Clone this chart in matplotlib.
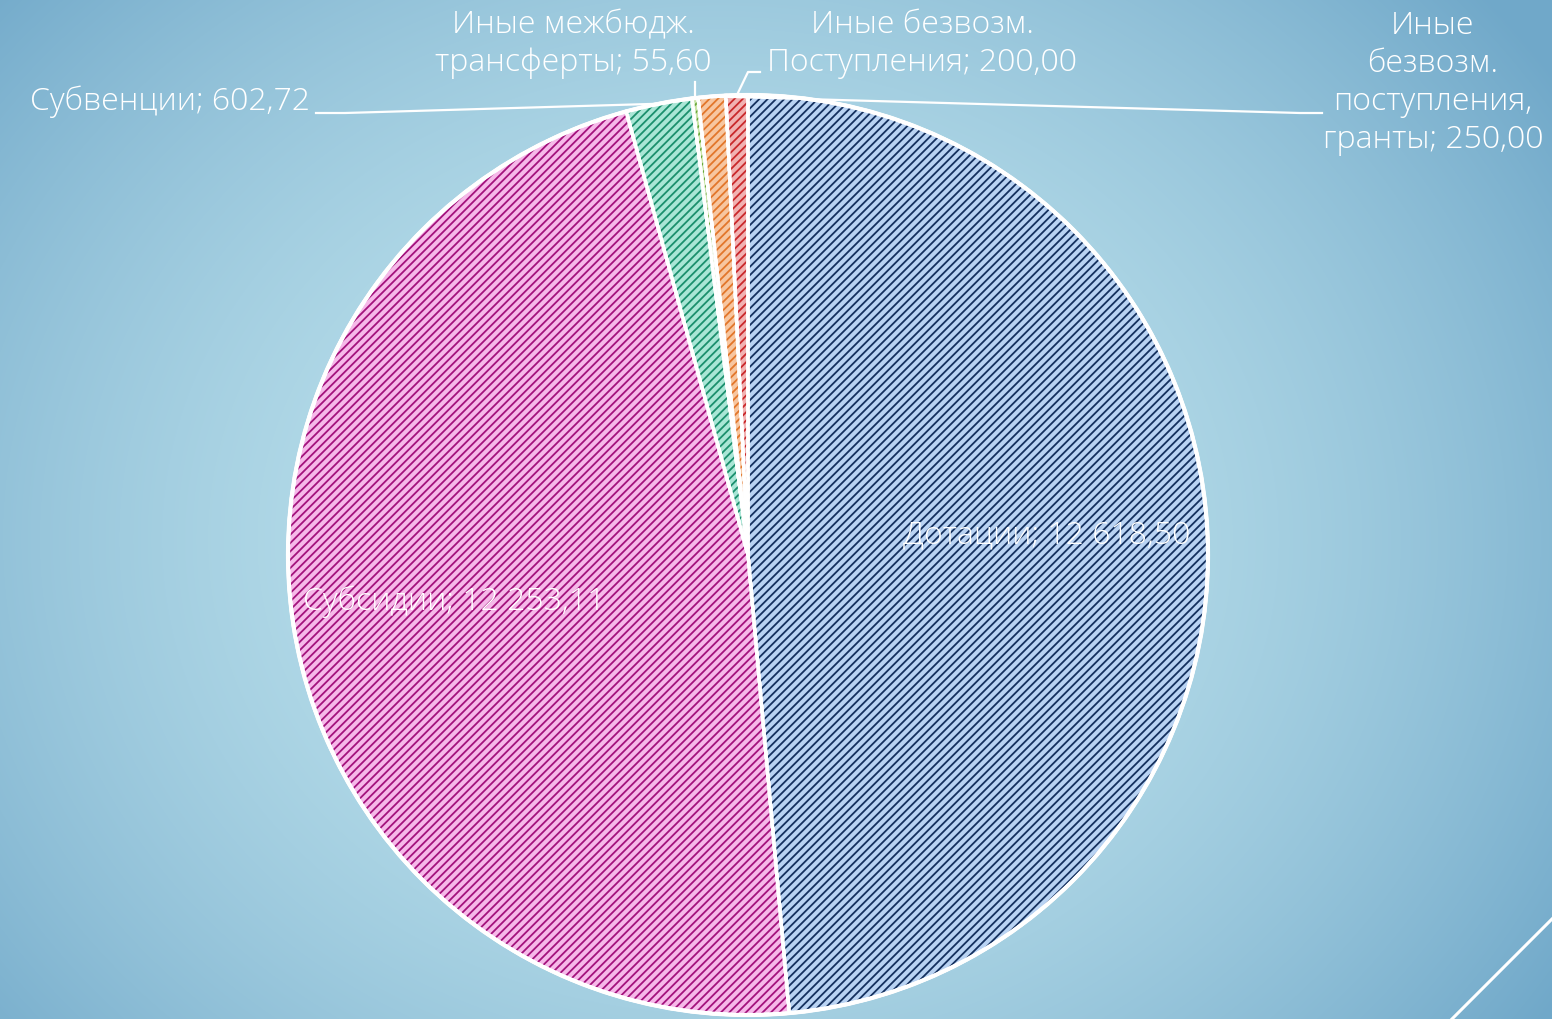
import numpy as np
import matplotlib
matplotlib.use("Agg")
import matplotlib.pyplot as plt
from matplotlib.patches import Wedge, Circle
from matplotlib.lines import Line2D

plt.rcParams['font.family'] = ['Open Sans', 'DejaVu Sans']
plt.rcParams['hatch.linewidth'] = 1.3

# ---- data (clockwise from 12 o'clock) ----
categories = ["Дотации", "Субсидии", "Субвенции", "Иные межбюдж.\nтрансферты",
              "Иные\nбезвозм.\nпоступления,\nгранты", "Иные безвозм.\nПоступления"]
values = [12618.50, 12253.11, 602.72, 55.60, 250.00, 200.00]
value_labels = ["12 618,50", "12 253,11", "602,72", "55,60", "250,00", "200,00"]

face_colors = ["#b9d3f3", "#f6b9e9", "#a9e6d6", "#c9e6a8", "#f7c6a0", "#f1b2b2"]
hatch_colors = ["#14305e", "#a3137c", "#1b8f6d", "#6aa83a", "#e2762a", "#c9282b"]

W, H = 1552, 1019
fig = plt.figure(figsize=(W / 100, H / 100), dpi=100)
ax = fig.add_axes([0, 0, 1, 1])

# background radial gradient
yy, xx = np.mgrid[0:H, 0:W]
py = H - yy
d = np.sqrt(((xx - 720) / 1000.0) ** 2 + ((py - 480) / 850.0) ** 2)
t = np.clip(d, 0, 1.2) ** 1.8
light = np.array([192, 228, 238]) / 255.0
dark = np.array([112, 168, 201]) / 255.0
t = np.clip(t, 0, 1)
img = light[None, None, :] * (1 - t[..., None]) + dark[None, None, :] * t[..., None]
ax.imshow(img, extent=[0, W, 0, H], origin='upper', zorder=0, interpolation='bilinear')

# pie geometry
cx, cy, R = 748, H - 555, 460

wedges, _ = ax.pie(values, colors=face_colors, startangle=90, counterclock=False,
                   center=(cx, cy), radius=R, frame=True,
                   wedgeprops=dict(edgecolor='white', linewidth=2.5, zorder=2))
ax.set_xlim(0, W)
ax.set_ylim(0, H)
ax.axis('off')
ax.set_aspect('auto')

for w, hc in zip(wedges, hatch_colors):
    hw = Wedge((cx, cy), R, w.theta1, w.theta2, facecolor='none', edgecolor=hc,
               linewidth=0, hatch='////', zorder=3)
    ax.add_patch(hw)
    ow = Wedge((cx, cy), R, w.theta1, w.theta2, facecolor='none', edgecolor='white',
               linewidth=2.5, zorder=4)
    ax.add_patch(ow)
ax.add_patch(Circle((cx, cy), R, facecolor='none', edgecolor='white', linewidth=3, zorder=5))

fs = 23
tk = dict(color='white', fontsize=fs, fontweight='light', zorder=6)
# inside labels
for i in [0, 1]:
    w = wedges[i]
    mid = np.deg2rad((w.theta1 + w.theta2) / 2)
    x = cx + 0.65 * R * np.cos(mid)
    y = cy + 0.65 * R * np.sin(mid) + 6
    ax.text(x, y, f"{categories[i]}; {value_labels[i]}", ha='center', va='center', **tk)

def mid_edge(i):
    w = wedges[i]
    mid = np.deg2rad((w.theta1 + w.theta2) / 2)
    return cx + R * np.cos(mid), cy + R * np.sin(mid)

# outside labels
ls = 1.25
ax.text(310, H - 102, f"{categories[2]}; {value_labels[2]}", ha='right', va='center', **tk)
ax.text(573, H - 44, f"{categories[3]}; {value_labels[3]}", ha='center', va='center',
        linespacing=ls, **tk)
ax.text(922, H - 44, f"{categories[5]}; {value_labels[5]}", ha='center', va='center',
        linespacing=ls, **tk)
ax.text(1433, H - 83, f"{categories[4]}; {value_labels[4]}", ha='center', va='center',
        linespacing=ls, **tk)

# leader lines
lw = 1.6
ex, ey = mid_edge(2)
ax.plot([316, 345, ex], [H - 113, H - 113, ey], color='white', lw=lw, zorder=6)
ex, ey = mid_edge(3)
ax.plot([ex, ex], [H - 82, ey], color='white', lw=lw, zorder=6)
ex, ey = mid_edge(5)
ax.plot([760, 748, ex], [H - 72, H - 72, ey], color='white', lw=lw, zorder=6)
ex, ey = mid_edge(4)
ax.plot([1322, 1300, ex], [H - 113, H - 113, ey], color='white', lw=lw, zorder=6)

# decorative corner line
fig.add_artist(Line2D([1452 / W, 1.0], [0.0, (H - 919) / H], color='white', lw=2.2,
                      transform=fig.transFigure))

fig.savefig("out.png", dpi=100)
